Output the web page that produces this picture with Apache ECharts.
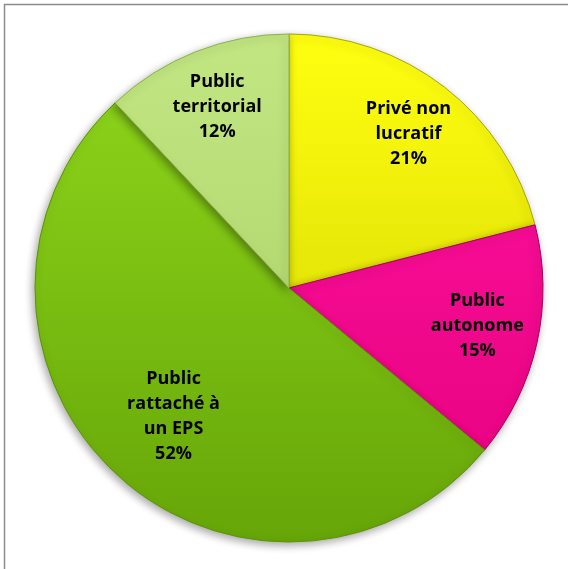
<!DOCTYPE html>
<html>
<head>
<meta charset="utf-8">
<script src="https://cdn.jsdelivr.net/npm/echarts@6/dist/echarts.min.js"></script>
<style>
  html, body { margin: 0; padding: 0; background: #fff; }
  #chart { width: 568px; height: 569px; }
</style>
</head>
<body>
<div id="chart"></div>
<script>
// Répartition des établissements par statut juridique
const categories = ['Privé non\nlucratif', 'Public\nautonome', 'Public\nrattaché à\nun EPS', 'Public\nterritorial'];
const shares = [21, 15, 52, 12];

// Slice fills: vertical gradients, lighter at the top of the disc
const cx = 289, cy = 288, R = 254;
function vGrad(top, bottom) {
  return {
    type: 'linear', x: 0, y: cy - R, x2: 0, y2: cy + R, global: true,
    colorStops: [{ offset: 0, color: top }, { offset: 1, color: bottom }]
  };
}
const fills = [
  vGrad('#ffff10', '#cccc00'),
  vGrad('#ff14a0', '#e6007e'),
  vGrad('#90d81c', '#66a608'),
  vGrad('#c2e682', '#a8cc62')
];
const borders = ['#a8a800', '#a8005c', '#5c9208', '#8fb04c'];
// small nudges of the label block within each slice
const labelNudge = [[0, 0], [-2, -5], [18, -14], [0, 0]];

const chart = echarts.init(document.getElementById('chart'), null, { renderer: 'canvas' });

const sliceData = categories.map((name, i) => ({
  name: name,
  value: shares[i],
  itemStyle: { color: fills[i], borderColor: borders[i] }
}));

const labelData = categories.map((name, i) => ({
  name: name,
  value: shares[i],
  label: { offset: labelNudge[i] }
}));

chart.setOption({
  animation: false,
  graphic: [{
    type: 'rect',
    shape: { x: 4.5, y: 4.5, width: 600, height: 600 },
    style: { fill: 'none', stroke: '#8c8c8c', lineWidth: 1.5 },
    z: 0
  }],
  series: [
    {
      type: 'pie',
      center: [cx, cy],
      radius: [0, R],
      startAngle: 90,
      clockwise: true,
      silent: true,
      label: { show: false },
      labelLine: { show: false },
      itemStyle: {
        borderWidth: 1,
        shadowBlur: 8,
        shadowColor: 'rgba(0,0,0,0.35)',
        shadowOffsetX: -2,
        shadowOffsetY: 3
      },
      data: sliceData,
      z: 2
    },
    {
      // transparent ring that carries the category labels at ~3/4 radius
      type: 'pie',
      center: [cx, cy],
      radius: [134, 250],
      startAngle: 90,
      clockwise: true,
      silent: true,
      itemStyle: { color: 'rgba(0,0,0,0)', borderWidth: 0 },
      label: {
        show: true,
        position: 'inside',
        formatter: p => p.name + '\n' + p.value + '%',
        fontFamily: '"Open Sans", "Noto Sans", sans-serif',
        fontWeight: 'bold',
        fontSize: 18,
        lineHeight: 25,
        color: '#000',
        align: 'center'
      },
      labelLine: { show: false },
      data: labelData,
      z: 3
    }
  ]
});
</script>
</body>
</html>
